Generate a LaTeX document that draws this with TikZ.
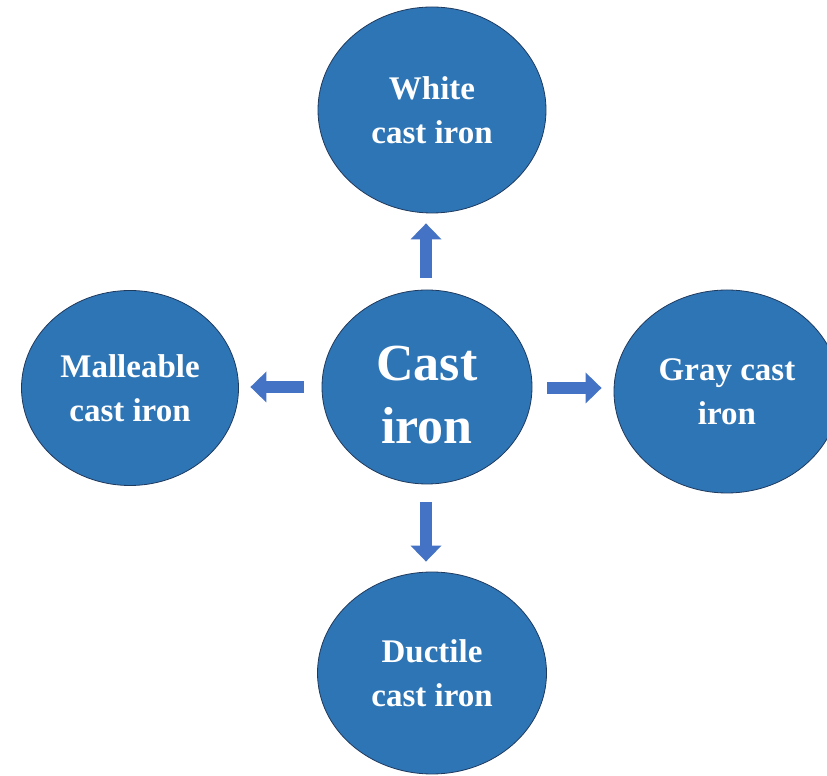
\documentclass[tikz,border=0pt]{standalone}
\usepackage{fontspec}
\setmainfont{Liberation Serif}
\usetikzlibrary{shapes.geometric,arrows.meta,calc}
\definecolor{ellfill}{HTML}{2E75B6}
\definecolor{elldraw}{HTML}{1F3A5F}
\definecolor{arrfill}{HTML}{4472C4}
\tikzset{
  bubble/.style={ellipse, fill=ellfill, draw=elldraw, line width=0.8pt, inner sep=0pt,
    text=white, align=center, font=\fontsize{33}{44}\selectfont\bfseries},
  bigtext/.style={text=white, align=center, inner sep=0pt, font=\fontsize{52}{63}\selectfont\bfseries},
  blockarrow/.style={draw=arrfill, line width=12pt, line cap=butt,
    -{Triangle[length=16pt,width=30pt,fill=arrfill]}}
}
\begin{document}
\begin{tikzpicture}[x=1pt,y=1pt]
\useasboundingbox (0,0) rectangle (827,776);
\fill[white] (0,0) rectangle (827,776);
\node[bubble, minimum width=210pt, minimum height=194pt] (c) at (427,389) {};
\node[bigtext] (ct) at ($(c.center)+(0,-8)$) {Cast\\iron};
\node[bubble, minimum width=228pt, minimum height=206pt] (w) at (432,666) {White\\cast iron};
\node[bubble, minimum width=217pt, minimum height=195pt] (m) at (130,388) {Malleable\\cast iron};
\node[bubble, minimum width=226pt, minimum height=203pt] (g) at (727,384.5) {Gray cast\\iron};
\node[bubble, minimum width=229pt, minimum height=202pt] (d) at (432,103) {Ductile\\cast iron};
\draw[blockarrow] ($(c.north)+(-1,12)$) -- ($(w.south)+(-6,-10)$);
\draw[blockarrow] ($(c.south)+(-1,-18)$) -- ($(d.north)+(-6,10)$);
\draw[blockarrow] ($(c.west)+(-18,0)$) -- ($(m.east)+(11.5,1)$);
\draw[blockarrow] ($(c.east)+(15,-1)$) -- ($(g.west)+(-12,3.5)$);
\end{tikzpicture}
\end{document}
